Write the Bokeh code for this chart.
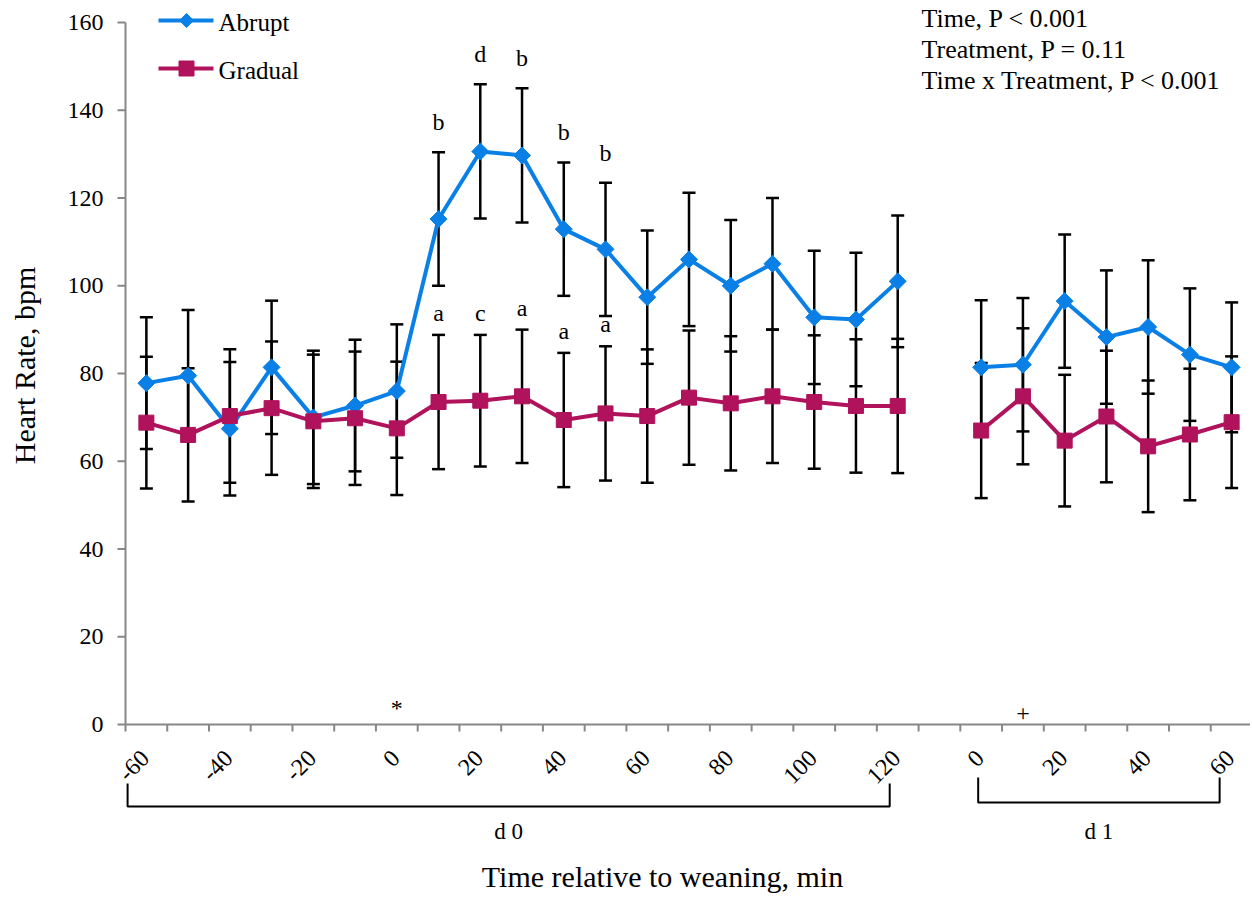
import math
from bokeh.plotting import figure
from bokeh.models import Range1d
from bokeh.core.properties import value
from bokeh.embed import file_html
from bokeh.resources import INLINE

# ---------------- data ----------------
d0_minutes = [-60, -50, -40, -30, -20, -10, 0, 10, 20, 30, 40, 50, 60, 70, 80, 90, 100, 110, 120]
d1_minutes = [0, 10, 20, 30, 40, 50, 60]

abrupt_d0 = [77.8, 79.5, 67.4, 81.4, 70.0, 72.7, 76.0, 115.2, 130.6, 129.7, 112.9, 108.3,
             97.4, 106.0, 100.0, 105.0, 92.8, 92.3, 101.0]
abrupt_d0_se = [15.0, 15.0, 15.2, 15.2, 15.2, 15.0, 15.2, 15.2, 15.3, 15.3, 15.2, 15.2,
                15.2, 15.2, 15.0, 15.0, 15.2, 15.2, 15.0]
gradual_d0 = [68.8, 66.0, 70.3, 72.1, 69.1, 69.8, 67.5, 73.5, 73.8, 74.8, 69.4, 70.9,
              70.3, 74.5, 73.2, 74.8, 73.5, 72.6, 72.6]
gradual_d0_se = [15.0, 15.2, 15.2, 15.2, 15.2, 15.2, 15.2, 15.3, 15.0, 15.2, 15.3, 15.3,
                 15.2, 15.3, 15.3, 15.2, 15.2, 15.2, 15.3]

abrupt_d1 = [81.4, 82.0, 96.5, 88.3, 90.6, 84.3, 81.4]
abrupt_d1_se = [15.3, 15.2, 15.2, 15.2, 15.2, 15.1, 14.8]
gradual_d1 = [67.0, 74.8, 64.7, 70.2, 63.4, 66.1, 68.9]
gradual_d1_se = [15.4, 15.5, 15.0, 15.0, 15.0, 15.0, 15.0]

abrupt_letters = {10: "b", 20: "d", 30: "b", 40: "b", 50: "b"}
gradual_letters = {10: "a", 20: "c", 30: "a", 40: "a", 50: "a"}

series_names = ["Abrupt", "Gradual"]
stats_lines = ["Time,  P < 0.001", "Treatment, P = 0.11", "Time  x Treatment,  P < 0.001"]
d0_mark = (0, "*")     # d 0, minute 0
d1_mark = (10, "+")    # d 1, minute 10
y_ticks = [0, 20, 40, 60, 80, 100, 120, 140, 160]
label_step = 20
y_title = "Heart Rate, bpm"
x_title = "Time relative to weaning, min"
day_names = ["d 0", "d 1"]

# ---------------- geometry (pixels of the picture) ----------------
W, H = 1250, 900
LEFT, TOP, BOTTOM = 125, 22, 724          # plot area edges
PXX = (1252 - LEFT) / 54.0                # px per x unit (one slot = 2 units)
PXY = (BOTTOM - TOP) / 160.0              # px per y unit


def dx(px):      # horizontal pixel distance -> data units
    return px / PXX


def dy(px):      # vertical pixel distance -> data units
    return px / PXY


def at_x(page_x):
    return (page_x - LEFT) / PXX


def at_y(page_y):
    return (BOTTOM - page_y) / PXY


GAP = 1
d1_offset = len(d0_minutes) + GAP
n_slots = d1_offset + len(d1_minutes)


def cx(slot):
    return 2 * slot + 1


x_d0 = [cx(i) for i in range(len(d0_minutes))]
x_d1 = [cx(d1_offset + j) for j in range(len(d1_minutes))]

FONT = "Liberation Serif"
BLUE = "#0A80E6"
MAGENTA = "#B0125B"
GRAY = "#878787"

p = figure(width=W, height=H, x_range=Range1d(at_x(0), at_x(W)), y_range=Range1d(at_y(H), at_y(0)),
           output_backend="svg", toolbar_location=None,
           min_border_left=0, min_border_right=0, min_border_top=0, min_border_bottom=0)
p.xaxis.visible = False
p.yaxis.visible = False
p.xgrid.visible = False
p.ygrid.visible = False
p.outline_line_color = None
p.background_fill_color = "white"
p.border_fill_color = "white"

# ---------------- axes drawn as glyphs ----------------
x_end = 2 * n_slots
p.segment(x0=[0, 0], y0=[0, 0], x1=[0, x_end], y1=[160, 0], line_color=GRAY, line_width=2)
# y ticks + labels
p.segment(x0=[-dx(8)] * len(y_ticks), y0=y_ticks, x1=[0] * len(y_ticks), y1=y_ticks,
          line_color=GRAY, line_width=2)
p.text([at_x(103)] * len(y_ticks), y_ticks, text=[str(t) for t in y_ticks], text_font=value(FONT),
       text_font_size="24px", text_align="right", text_baseline="middle", text_color="black")
# x ticks on slot boundaries
bounds = list(range(0, x_end + 1, 2))
p.segment(x0=bounds, y0=[0] * len(bounds), x1=bounds, y1=[-dy(7)] * len(bounds),
          line_color=GRAY, line_width=2)
# rotated x labels
lx, lt = [], []
for xs, mins in ((x_d0, d0_minutes), (x_d1, d1_minutes)):
    for xv, m in zip(xs, mins):
        if m % label_step == 0:
            lx.append(xv - dx(1)); lt.append(str(m))
p.text(lx, [-dy(30)] * len(lx), text=lt, angle=math.pi / 4, text_font=value(FONT),
       text_font_size="24px", text_align="right", text_baseline="middle", text_color="black")
# axis titles
p.text([at_x(24)], [at_y(365)], text=[y_title], angle=math.pi / 2, text_font=value(FONT),
       text_font_size="30px", text_align="center", text_baseline="middle", text_color="black")
p.text([at_x(662)], [at_y(876)], text=[x_title], text_font=value(FONT),
       text_font_size="30px", text_align="center", text_baseline="middle", text_color="black")

# day brackets
brackets = [
    (0.1, x_d0[-1] - dx(8), at_y(783), at_y(806)),
    (x_d1[0] - dx(3), x_d1[-1] - dx(12), at_y(777), at_y(802)),
]
bx, by = [], []
for x0, x1, ytop, ybot in brackets:
    bx.append([x0, x0, x1, x1]); by.append([ytop, ybot, ybot, ytop])
p.multi_line(bx, by, line_color="black", line_width=2)
p.text([(b[0] + b[1]) / 2 for b in brackets], [at_y(831)] * 2, text=day_names,
       text_font=value(FONT), text_font_size="23px", text_align="center",
       text_baseline="middle", text_color="black")


# ---------------- error bars ----------------
def error_bars(xs, ys, ses):
    lo = [y - s for y, s in zip(ys, ses)]
    hi = [y + s for y, s in zip(ys, ses)]
    p.segment(x0=xs, y0=lo, x1=xs, y1=hi, line_color="black", line_width=2.5)
    p.scatter(xs, hi, marker="dash", size=13, line_color="black", line_width=2.5)
    p.scatter(xs, lo, marker="dash", size=13, line_color="black", line_width=2.5)


error_bars(x_d0, abrupt_d0, abrupt_d0_se)
error_bars(x_d1, abrupt_d1, abrupt_d1_se)
error_bars(x_d0, gradual_d0, gradual_d0_se)
error_bars(x_d1, gradual_d1, gradual_d1_se)

# ---------------- series ----------------
DIAMOND = dict(marker="square", angle=math.pi / 4, fill_color=BLUE, line_color=BLUE)
SQUARE = dict(marker="square", fill_color=MAGENTA, line_color=MAGENTA)

for xs, ys in ((x_d0, abrupt_d0), (x_d1, abrupt_d1)):
    p.line(xs, ys, line_color=BLUE, line_width=4)
    p.scatter(xs, ys, size=12, **DIAMOND)
for xs, ys in ((x_d0, gradual_d0), (x_d1, gradual_d1)):
    p.line(xs, ys, line_color=MAGENTA, line_width=4)
    p.scatter(xs, ys, size=15, **SQUARE)

# ---------------- significance letters ----------------
ax, ay, at = [], [], []
gx, gy, gt = [], [], []
for i, m in enumerate(d0_minutes):
    if m in abrupt_letters:
        ax.append(x_d0[i]); ay.append(abrupt_d0[i] + abrupt_d0_se[i]); at.append(abrupt_letters[m])
    if m in gradual_letters:
        gx.append(x_d0[i]); gy.append(gradual_d0[i] + gradual_d0_se[i]); gt.append(gradual_letters[m])
p.text(ax, ay, text=at, text_font=value(FONT), text_font_size="24px", text_align="center",
       text_baseline="bottom", y_offset=-17, text_color="black")
p.text(gx, gy, text=gt, text_font=value(FONT), text_font_size="24px", text_align="center",
       text_baseline="bottom", y_offset=-9, text_color="black")

# markers near the axis
p.text([x_d0[d0_minutes.index(d0_mark[0])], x_d1[d1_minutes.index(d1_mark[0])]],
       [at_y(707), at_y(713)], text=[d0_mark[1], d1_mark[1]], text_font=value(FONT),
       text_font_size="24px", text_align="center", text_baseline="middle", text_color="black")

# stats block
p.text([at_x(921)] * len(stats_lines), [at_y(18 + 31 * k) for k in range(len(stats_lines))],
       text=stats_lines, text_font=value(FONT), text_font_size="26px", text_align="left",
       text_baseline="middle", text_color="black")

# ---------------- legend (drawn by hand) ----------------
leg_rows = [at_y(20), at_y(68)]
leg_x0, leg_x1, leg_xm, leg_tx = at_x(158), at_x(213), at_x(186), at_x(218)
p.segment(x0=[leg_x0] * 2, y0=leg_rows, x1=[leg_x1] * 2, y1=leg_rows,
          line_color=[BLUE, MAGENTA], line_width=4)
p.scatter([leg_xm], [leg_rows[0]], size=10, **DIAMOND)
p.scatter([leg_xm], [leg_rows[1]], size=15, **SQUARE)
p.text([leg_tx] * 2, [r - dy(2) for r in leg_rows], text=series_names, text_font=value(FONT),
       text_font_size="25px", text_align="left", text_baseline="middle", text_color="black")

open("out.html", "w").write(file_html(p, INLINE))
